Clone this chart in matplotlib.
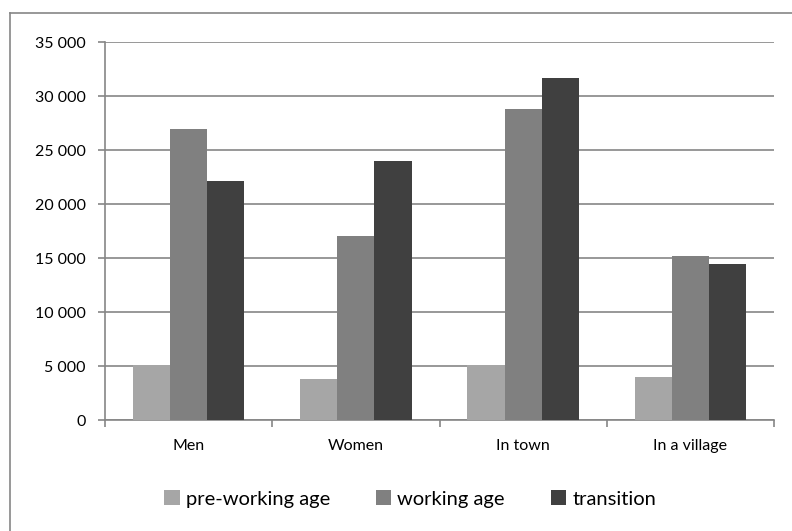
import matplotlib
matplotlib.use("Agg")
import matplotlib.pyplot as plt
from matplotlib.lines import Line2D
from matplotlib.patches import Patch
from matplotlib.ticker import FuncFormatter, FixedLocator
import numpy as np

plt.rcParams['font.family'] = ['Lato', 'DejaVu Sans']

# data
categories = ["Men", "Women", "In town", "In a village"]
pre_working = [5100, 3800, 5050, 4000]
working = [26900, 17000, 28800, 15200]
transition = [22100, 24000, 31700, 14400]
series_names = ["pre-working age", "working age", "transition"]
colors = ['#a6a6a6', '#808080', '#404040']

fig = plt.figure(figsize=(7.92, 5.31), dpi=100)
ax = fig.add_axes([105 / 792, 1 - 420 / 531, (774 - 105) / 792, (420 - 42) / 531])

x = np.arange(len(categories))
w = 0.222
for i, (vals, c) in enumerate(zip([pre_working, working, transition], colors)):
    ax.bar(x + (i - 1) * w, vals, width=w, color=c, zorder=3)

ax.set_xlim(-0.5, len(categories) - 0.5)
ax.set_ylim(0, 35000)
ax.set_yticks(np.arange(0, 35001, 5000))
ax.yaxis.set_major_formatter(FuncFormatter(lambda v, p: f"{int(v):,}".replace(",", " ")))
ax.grid(axis='y', color='#868686', linewidth=1.2, zorder=0)

# category labels centered, ticks on boundaries
ax.set_xticks(x)
ax.set_xticklabels(categories)
ax.tick_params(axis='x', which='major', length=0, pad=14, labelsize=11.5)
ax.xaxis.set_minor_locator(FixedLocator(np.arange(-0.5, len(categories), 1)))
ax.tick_params(axis='x', which='minor', length=5, color='#868686', width=1.2)
ax.tick_params(axis='y', length=5, color='#868686', width=1.2, pad=9, labelsize=11.5)

for side in ['top', 'right']:
    ax.spines[side].set_visible(False)
for side in ['left', 'bottom']:
    ax.spines[side].set_color('#868686')
    ax.spines[side].set_linewidth(1.2)

handles = [Patch(facecolor=c, edgecolor='none') for c in colors]
fig.legend(handles, series_names, loc='center', bbox_to_anchor=(0.518, 1 - 499 / 531),
           ncol=3, frameon=False, fontsize=14.5, handlelength=0.75, handleheight=0.75,
           handletextpad=0.3, columnspacing=2.3)

# chart border
fig.add_artist(Line2D([10 / 792, 10 / 792], [0, 1 - 13 / 531], color='#868686', linewidth=1.2))
fig.add_artist(Line2D([10 / 792, 1], [1 - 13 / 531, 1 - 13 / 531], color='#868686', linewidth=1.2))

fig.savefig("out.png", dpi=100)
